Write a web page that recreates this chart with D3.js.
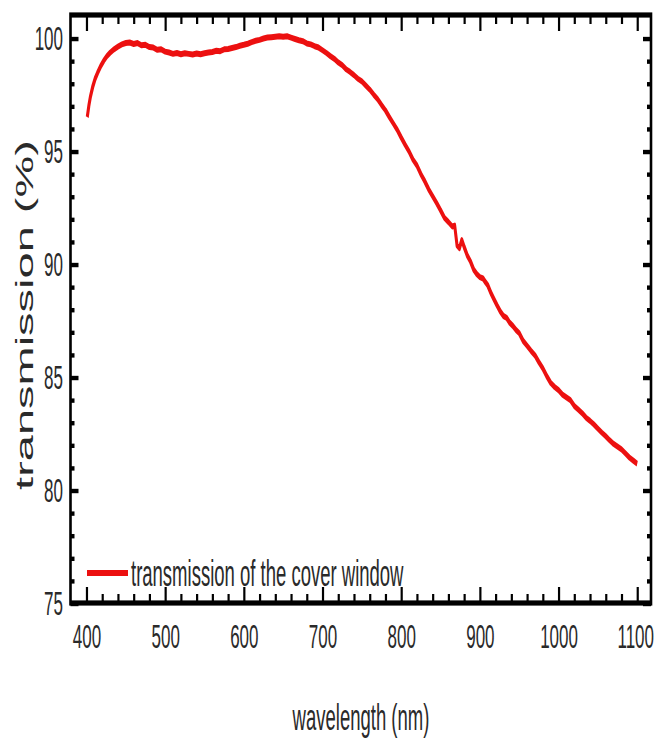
<!DOCTYPE html>
<html>
<head>
<meta charset="utf-8">
<script src="https://cdn.jsdelivr.net/npm/d3@7"></script>
<style>
  body { margin: 0; background: #fff; }
  svg { display: block; }
</style>
</head>
<body>
<svg></svg>
<script>
// wavelength (nm) / transmission (%)
var wavelengths = [401, 403, 405, 408, 411, 414, 418, 422, 426, 430, 435, 440, 445, 450, 455, 460, 465, 470, 475, 480,
  485, 490, 495, 500, 505, 510, 515, 520, 525, 530, 535, 540, 545, 550, 555, 560, 565, 570, 575, 580,
  585, 590, 595, 600, 605, 610, 615, 620, 625, 630, 635, 640, 645, 650, 655, 660, 665, 670, 675, 680,
  685, 690, 695, 700, 705, 710, 715, 720, 725, 730, 735, 740, 745, 750, 755, 760, 765, 770, 775, 780,
  785, 790, 795, 800, 805, 810, 815, 820, 825, 830, 835, 840, 845, 850, 855, 860, 865, 868, 871, 874,
  877, 880, 884, 888, 892, 896, 900, 904, 907, 910, 914, 918, 922, 926, 930, 934, 938, 942, 946, 950,
  955, 960, 965, 970, 975, 980, 985, 990, 995, 1000, 1005, 1010, 1015, 1020, 1025, 1030, 1035, 1040, 1045, 1050,
  1055, 1060, 1065, 1070, 1075, 1080, 1085, 1090, 1095, 1100];
var transmission = [96.5, 97.0, 97.4, 97.85, 98.2, 98.45, 98.75, 99.0, 99.2, 99.35, 99.5, 99.62, 99.72, 99.78, 99.8, 99.74, 99.78, 99.68, 99.7, 99.6,
  99.58, 99.48, 99.5, 99.4, 99.36, 99.3, 99.34, 99.28, 99.33, 99.3, 99.27, 99.32, 99.28, 99.33, 99.36, 99.38, 99.44, 99.42, 99.5, 99.52,
  99.56, 99.6, 99.66, 99.7, 99.75, 99.82, 99.88, 99.92, 99.98, 100.02, 100.04, 100.06, 100.08, 100.06, 100.08, 100.02, 99.96, 99.9, 99.86, 99.76,
  99.72, 99.64, 99.58, 99.46, 99.34, 99.2, 99.08, 98.92, 98.8, 98.62, 98.5, 98.36, 98.2, 98.08, 97.9, 97.72, 97.5, 97.3, 97.04, 96.8,
  96.5, 96.22, 95.94, 95.6, 95.28, 94.98, 94.62, 94.36, 93.98, 93.66, 93.3, 93.0, 92.7, 92.38, 92.04, 91.86, 91.66, 91.7, 90.82, 90.7,
  91.06, 90.76, 90.38, 90.12, 89.76, 89.56, 89.42, 89.36, 89.2, 89.06, 88.72, 88.44, 88.16, 87.9, 87.7, 87.62, 87.4, 87.26, 87.08, 86.94,
  86.6, 86.38, 86.16, 85.96, 85.66, 85.38, 85.04, 84.74, 84.56, 84.42, 84.22, 84.1, 83.98, 83.72, 83.56, 83.4, 83.2, 83.06, 82.9, 82.72,
  82.54, 82.38, 82.2, 82.04, 81.92, 81.8, 81.62, 81.44, 81.3, 81.16];

var xMajor = [400, 500, 600, 700, 800, 900, 1000, 1100];
var yMajor = [75, 80, 85, 90, 95, 100];
var seriesName = "transmission of the cover window";

var width = 654;
var height = 740;
// the original picture is squashed: everything is drawn at half height and stretched 2x
var stretch = 2;
var plotLeft = 70.5;
var plotRight = 651;
var plotTop = 7.5;
var plotBottom = 301.5;

var xMinor = d3.range(400, 1101, 20).filter((v) => v % 100 !== 0);
var yMinor = d3.range(76, 101, 1).filter((v) => v % 5 !== 0);

var xScale = d3.scaleLinear().domain([379.7, 1117.5]).range([plotLeft, plotRight]);
var yScale = d3.scaleLinear().domain([75, 101.02]).range([plotBottom, plotTop]);

var svg = d3.select("svg").attr("width", width).attr("height", height);
var g = svg.append("g").attr("transform", `scale(1, ${stretch})`);

var tickFont = "'Liberation Sans Narrow', 'Arial Narrow', sans-serif";
var textFont = "'Liberation Sans', Arial, sans-serif";

function styleAxis(sel, withText) {
  sel.select(".domain").remove();
  sel.selectAll(".tick line").attr("stroke", "#000").attr("stroke-width", 2.2);
  if (withText) {
    sel.selectAll(".tick text")
      .attr("fill", "#2a2a2a")
      .style("font-family", tickFont)
      .style("font-size", "17px");
  } else {
    sel.selectAll(".tick text").remove();
  }
}

// bottom axis - major with labels, then minor
g.append("g")
  .attr("transform", `translate(0, ${plotBottom})`)
  .call(d3.axisBottom(xScale).tickValues(xMajor).tickSize(-8).tickPadding(10.5).tickFormat(d3.format("d")))
  .call(styleAxis, true)
  .selectAll(".tick text")
  .filter((d) => d === 1100)
  .attr("dx", -2); // keep the last label inside the picture
g.append("g")
  .attr("transform", `translate(0, ${plotBottom})`)
  .call(d3.axisBottom(xScale).tickValues(xMinor).tickSize(-4.5))
  .call(styleAxis, false);

// top axis - ticks only, pointing down
g.append("g")
  .attr("transform", `translate(0, ${plotTop})`)
  .call(d3.axisBottom(xScale).tickValues(xMajor).tickSize(8))
  .call(styleAxis, false);
g.append("g")
  .attr("transform", `translate(0, ${plotTop})`)
  .call(d3.axisBottom(xScale).tickValues(xMinor).tickSize(4.5))
  .call(styleAxis, false);

// left axis
g.append("g")
  .attr("transform", `translate(${plotLeft}, 0)`)
  .call(d3.axisLeft(yScale).tickValues(yMajor).tickSize(-8).tickPadding(7.5).tickFormat(d3.format("d")))
  .call(styleAxis, true);
g.append("g")
  .attr("transform", `translate(${plotLeft}, 0)`)
  .call(d3.axisLeft(yScale).tickValues(yMinor).tickSize(-4))
  .call(styleAxis, false);

// right axis - ticks pointing left
g.append("g")
  .attr("transform", `translate(${plotRight}, 0)`)
  .call(d3.axisLeft(yScale).tickValues(yMajor).tickSize(8))
  .call(styleAxis, false);
g.append("g")
  .attr("transform", `translate(${plotRight}, 0)`)
  .call(d3.axisLeft(yScale).tickValues(yMinor).tickSize(4))
  .call(styleAxis, false);

// frame
g.append("rect")
  .attr("x", plotLeft)
  .attr("y", plotTop)
  .attr("width", plotRight - plotLeft)
  .attr("height", plotBottom - plotTop)
  .attr("fill", "none")
  .attr("stroke", "#000")
  .attr("stroke-width", 2.6);

// the curve
var points = wavelengths.map((w, i) => [w, transmission[i]]);
var line = d3.line()
  .x((d) => xScale(d[0]))
  .y((d) => yScale(d[1]));

g.append("path")
  .datum(points)
  .attr("d", line)
  .attr("fill", "none")
  .attr("stroke", "#ec1010")
  .attr("stroke-width", 3)
  .attr("stroke-linejoin", "round");

// legend
g.append("line")
  .attr("x1", 87)
  .attr("x2", 128)
  .attr("y1", 286.5)
  .attr("y2", 286.5)
  .attr("stroke", "#ec1010")
  .attr("stroke-width", 3);
g.append("text")
  .attr("x", 131)
  .attr("y", 293)
  .style("font-family", textFont)
  .style("font-size", "18.5px")
  .attr("fill", "#2a2a2a")
  .text(seriesName);

// X AXIS TITLE
g.append("text")
  .attr("x", 361)
  .attr("y", 365)
  .style("text-anchor", "middle")
  .style("font-family", textFont)
  .style("font-size", "18.5px")
  .attr("fill", "#2a2a2a")
  .text("wavelength (nm)");

// Y AXIS TITLE
g.append("text")
  .attr("transform", `translate(33, 157.5) rotate(-90)`)
  .style("text-anchor", "middle")
  .style("font-family", textFont)
  .style("font-size", "23.5px")
  .attr("fill", "#2a2a2a")
  .text("transmission (%)");
</script>
</body>
</html>
